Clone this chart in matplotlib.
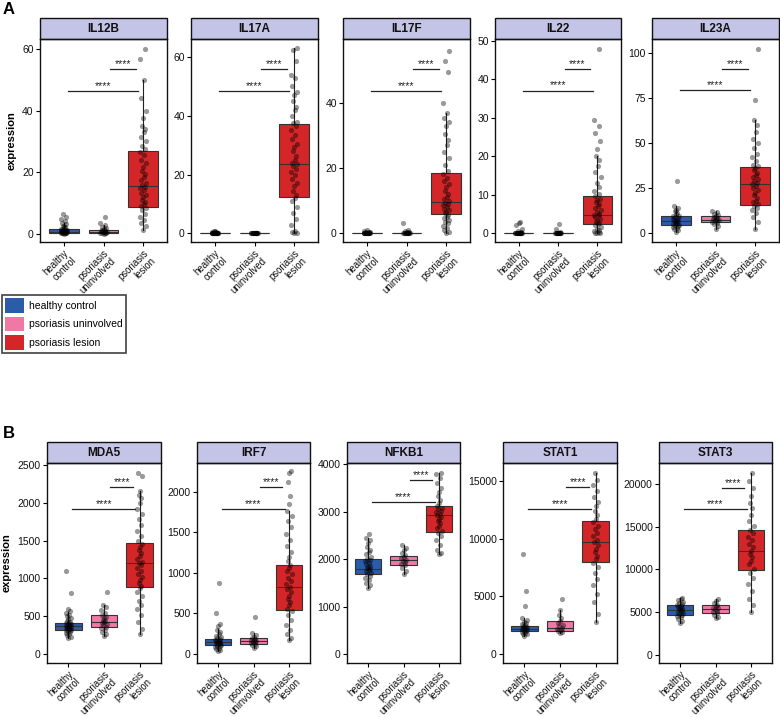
import matplotlib.pyplot as plt
from matplotlib.patches import Rectangle, Patch
from matplotlib.ticker import MultipleLocator

plt.rcParams['font.family'] = ['Liberation Sans', 'DejaVu Sans']

groups = ["healthy control", "psoriasis uninvolved", "psoriasis lesion"]
tick_labels = ["healthy\ncontrol", "psoriasis\nuninvolved", "psoriasis\nlesion"]
colors = ["#2B5CAA", "#F078A5", "#D42628"]

# ---- expression values (healthy control / uninvolved / lesion) ----
IL12B_hc = [0.0, 0.1, 0.1, 0.2, 0.2, 0.3, 0.3, 0.4, 0.4, 0.5, 0.5, 0.5, 0.6, 0.7, 0.8, 0.9, 1.0, 1.1,
            1.2, 1.3, 1.5, 1.7, 2.0, 2.3, 2.6, 3.0, 3.4, 4.0, 4.8, 5.5, 6.2]
IL12B_un = [0.0, 0.1, 0.2, 0.2, 0.3, 0.4, 0.5, 0.6, 0.7, 0.8, 1.0, 1.2, 1.5, 1.8, 2.2, 2.8, 3.5, 5.5]
IL12B_le = [1.0, 2.5, 3.5, 4.5, 5.5, 6.5, 7.5, 8.2, 8.8, 9.5, 10.3, 11.0, 11.8, 12.5, 13.3, 14.0, 14.8,
            15.3, 15.8, 16.5, 17.5, 18.5, 19.5, 20.5, 21.5, 22.8, 24.0, 25.5, 26.5, 27.5, 28.5, 30.0,
            31.5, 33.0, 34.0, 35.0, 37.5, 40.0, 44.0, 50.0, 56.8, 60.0]

IL17A_hc = [0, 0, 0, 0, 0, 0, 0, 0, 0, 0, 0, 0, 0, 0, 0, 0.1, 0.1, 0.2, 0.2, 0.3, 0.4, 0.5, 0.6, 0.8, 1.0]
IL17A_un = [0, 0, 0, 0, 0, 0, 0, 0, 0, 0, 0, 0, 0, 0, 0, 0.1, 0.1, 0.2]
IL17A_le = [0, 0.2, 0.5, 1.0, 3, 5, 7, 9, 11, 12, 13, 14.5, 16, 17, 18.5, 20, 21, 22, 23, 23.5, 24, 25,
            26.5, 28, 29.5, 30.5, 32, 33.5, 35, 36.5, 37.5, 38, 40, 42, 43, 45, 47, 48, 50, 53, 54,
            58.5, 62.5, 63]

IL17F_hc = [0, 0, 0, 0, 0, 0, 0, 0, 0, 0, 0, 0, 0, 0, 0, 0.1, 0.1, 0.2, 0.3, 0.4, 0.6, 0.8]
IL17F_un = [0, 0, 0, 0, 0, 0, 0, 0, 0, 0, 0, 0.1, 0.2, 0.4, 0.7, 1.0, 3.0]
IL17F_le = [0, 0.3, 0.8, 1.5, 2, 3, 3.5, 4, 4.5, 5, 5.5, 6, 6.5, 7, 7.5, 8, 8.5, 9, 9.3, 9.8, 10.5, 11,
            12, 13, 14, 15, 16, 17, 18, 19, 21, 23, 25, 27, 28.5, 30.5, 33, 34, 35.5, 37, 40, 49.5,
            53, 56]

IL22_hc = [0, 0, 0, 0, 0, 0, 0, 0, 0, 0, 0, 0, 0, 0, 0, 0, 0.1, 0.2, 0.5, 1.0, 2.0, 2.6, 3.0]
IL22_un = [0, 0, 0, 0, 0, 0, 0, 0, 0, 0, 0, 0, 0.1, 0.3, 1.0, 2.3]
IL22_le = [0, 0, 0, 0.2, 0.5, 0.8, 1.2, 1.6, 2.0, 2.3, 2.6, 3.0, 3.4, 3.8, 4.2, 4.6, 4.8, 5.0, 5.5,
           6.0, 6.5, 7.0, 7.5, 8.0, 8.5, 9.0, 9.6, 10.2, 11.0, 12.0, 13.0, 14.5, 16.0, 17.5, 19.0,
           20.0, 22.0, 24.0, 26.0, 28.0, 29.5, 48.0]

IL23A_hc = [0.5, 1.5, 2.3, 3.0, 3.5, 4.0, 4.3, 4.7, 5.0, 5.4, 5.8, 6.2, 6.5, 6.8, 7.1, 7.5, 7.9, 8.3,
            8.8, 9.2, 9.7, 10.3, 11.0, 12.0, 13.0, 14.0, 15.0, 29.0]
IL23A_un = [2.5, 4, 5, 5.8, 6.2, 6.7, 7.0, 7.3, 7.6, 8.0, 8.4, 8.8, 9.3, 9.8, 10.5, 11.5, 12.5]
IL23A_le = [2, 6, 9, 11, 13, 14, 15, 16, 17, 18, 19.5, 21, 22.5, 24, 25, 26, 27, 28, 29, 30, 31, 32,
            33.5, 35, 36, 37, 38, 40, 42, 44, 47, 50, 52, 56, 60, 63, 74, 102]

MDA5_hc = [210, 230, 250, 265, 280, 290, 300, 310, 318, 325, 333, 340, 348, 355, 362, 368, 375, 382,
           390, 398, 405, 415, 425, 440, 460, 480, 500, 520, 545, 570, 590, 800, 1100]
MDA5_un = [240, 265, 290, 320, 345, 360, 380, 395, 410, 420, 435, 450, 470, 490, 510, 540, 580, 620,
           650, 820]
MDA5_le = [260, 330, 420, 520, 600, 650, 700, 760, 820, 870, 900, 940, 980, 1020, 1060, 1100, 1140,
           1180, 1200, 1220, 1260, 1300, 1340, 1380, 1420, 1460, 1500, 1560, 1620, 1700, 1780, 1850,
           1920, 2000, 2060, 2100, 2150, 2350, 2400]

IRF7_hc = [40, 55, 65, 75, 85, 95, 105, 112, 120, 128, 135, 142, 148, 155, 162, 170, 178, 188, 198,
           210, 225, 245, 270, 300, 340, 370, 510, 880]
IRF7_un = [80, 100, 115, 125, 135, 145, 155, 162, 170, 180, 190, 200, 215, 235, 260, 455]
IRF7_le = [170, 200, 250, 300, 360, 420, 480, 530, 560, 600, 640, 680, 720, 760, 800, 830, 860, 900,
           940, 980, 1020, 1060, 1100, 1140, 1200, 1260, 1330, 1400, 1480, 1560, 1640, 1700, 1760,
           1850, 1950, 2120, 2230, 2250]

NFKB1_hc = [1400, 1450, 1500, 1550, 1600, 1640, 1680, 1710, 1740, 1770, 1790, 1810, 1830, 1860, 1890,
            1920, 1950, 1980, 2010, 2050, 2100, 2150, 2200, 2260, 2330, 2400, 2450, 2530]
NFKB1_un = [1680, 1750, 1820, 1870, 1900, 1930, 1960, 1990, 2020, 2050, 2080, 2120, 2180, 2230, 2300]
NFKB1_le = [2100, 2130, 2200, 2300, 2400, 2480, 2550, 2600, 2650, 2700, 2750, 2800, 2850, 2890, 2920,
            2950, 2980, 3010, 3050, 3080, 3120, 3180, 3250, 3330, 3400, 3500, 3600, 3700, 3780, 3800]

STAT1_hc = [1600, 1700, 1780, 1850, 1920, 1980, 2030, 2080, 2130, 2180, 2220, 2270, 2320, 2380, 2440,
            2500, 2580, 2680, 2800, 2950, 3100, 4200, 5450, 8700]
STAT1_un = [1800, 1900, 2000, 2100, 2200, 2300, 2400, 2550, 2700, 2900, 3100, 3400, 3800, 4800]
STAT1_le = [2800, 3500, 4500, 5200, 6000, 6500, 7000, 7500, 7900, 8200, 8500, 8800, 9100, 9400, 9700,
            9900, 10200, 10500, 10800, 11100, 11400, 11700, 12000, 12400, 12800, 13200, 13600, 14100,
            14600, 15100, 15700]

STAT3_hc = [3800, 4000, 4200, 4400, 4550, 4700, 4850, 4950, 5050, 5150, 5250, 5350, 5450, 5550, 5650,
            5750, 5850, 5950, 6100, 6250, 6400, 6550, 6700]
STAT3_un = [4300, 4500, 4700, 4900, 5050, 5200, 5350, 5450, 5550, 5700, 5850, 6050, 6300, 6600]
STAT3_le = [5000, 5800, 6600, 7500, 8300, 9000, 9600, 10100, 10600, 11000, 11400, 11800, 12200, 12600,
            13000, 13400, 13800, 14200, 14600, 15100, 15700, 16400, 17200, 17800, 18600, 19500, 20300,
            21200]

# ---- box stats per group: (q1, median, q3, lower whisker, upper whisker) ----
IL12B_box = [(0.2, 0.5, 1.4, 0, 3.4), (0.2, 0.6, 1.3, 0, 2.8), (8.6, 15.5, 26.8, 1.0, 50.0)]
IL17A_box = [(0, 0, 0.05, 0, 0.1), (0, 0, 0.02, 0, 0.05), (12.4, 23.6, 37.3, 0, 63)]
IL17F_box = [(0, 0, 0.05, 0, 0.1), (0, 0, 0.05, 0, 0.1), (5.8, 9.6, 18.4, 0, 37)]
IL22_box = [(0, 0, 0.02, 0, 0.05), (0, 0, 0.02, 0, 0.05), (2.3, 4.8, 9.6, 0, 20)]
IL23A_box = [(4.2, 6.7, 9.2, 0.5, 15), (6.0, 7.5, 9.5, 2.5, 12.5), (15.5, 27, 36.8, 2, 63)]
MDA5_box = [(318, 365, 415, 210, 560), (352, 418, 510, 240, 650), (888, 1200, 1462, 260, 2150)]
IRF7_box = [(110, 148, 188, 40, 310), (120, 160, 195, 80, 260), (548, 823, 1101, 170, 1760)]
NFKB1_box = [(1683, 1800, 2000, 1400, 2450), (1870, 1980, 2070, 1680, 2300), (2573, 2930, 3110, 2100, 3800)]
STAT1_box = [(1960, 2200, 2470, 1600, 3100), (2000, 2300, 2900, 1800, 3800), (8000, 9740, 11530, 2800, 15700)]
STAT3_box = [(4700, 5300, 5850, 3800, 6700), (4900, 5400, 5800, 4300, 6600), (9920, 12180, 14630, 5000, 21200)]

# ---- significance bar heights: (control vs lesion, uninvolved vs lesion) ----
IL12B_sig = (46.4, 53.5)
IL17A_sig = (48.4, 55.8)
IL17F_sig = (43.8, 50.5)
IL22_sig = (37.1, 42.8)
IL23A_sig = (79.4, 91.0)
MDA5_sig = (1919, 2210)
IRF7_sig = (1780, 2050)
NFKB1_sig = (3203, 3665)
STAT1_sig = (12520, 14420)
STAT3_sig = (17010, 19500)

W, H = 780, 717
fig = plt.figure(figsize=(W / 100, H / 100), dpi=100)

# name, points, box, sig, ylim, tick step, (x0, x1, ytop, ybottom) in px
panels = [
    ("IL12B", [IL12B_hc, IL12B_un, IL12B_le], IL12B_box, IL12B_sig, (-2.76, 63.3), 20, (40, 167, 39, 242)),
    ("IL17A", [IL17A_hc, IL17A_un, IL17A_le], IL17A_box, IL17A_sig, (-2.9, 66.1), 20, (191, 318, 39, 242)),
    ("IL17F", [IL17F_hc, IL17F_un, IL17F_le], IL17F_box, IL17F_sig, (-2.8, 59.7), 20, (343, 470, 39, 242)),
    ("IL22", [IL22_hc, IL22_un, IL22_le], IL22_box, IL22_sig, (-2.3, 50.5), 10, (495, 621, 39, 242)),
    ("IL23A", [IL23A_hc, IL23A_un, IL23A_le], IL23A_box, IL23A_sig, (-5.0, 107.8), 25, (652, 779, 39, 242)),
    ("MDA5", [MDA5_hc, MDA5_un, MDA5_le], MDA5_box, MDA5_sig, (-120, 2526), 500, (47, 161, 463, 663)),
    ("IRF7", [IRF7_hc, IRF7_un, IRF7_le], IRF7_box, IRF7_sig, (-109, 2351), 500, (197, 310, 463, 663)),
    ("NFKB1", [NFKB1_hc, NFKB1_un, NFKB1_le], NFKB1_box, NFKB1_sig, (-186, 4020), 1000, (347, 460, 463, 663)),
    ("STAT1", [STAT1_hc, STAT1_un, STAT1_le], STAT1_box, STAT1_sig, (-770, 16535), 5000, (503, 617, 463, 663)),
    ("STAT3", [STAT3_hc, STAT3_un, STAT3_le], STAT3_box, STAT3_sig, (-920, 22414), 5000, (659, 772, 463, 663)),
]

jit = [0.0, 0.06, -0.05, 0.03, -0.08, 0.05, -0.02, 0.08, -0.06, 0.01, 0.04, -0.03]
strip_h = 21

for k, (name, pts, box, sig, ylim, step, (x0, x1, yt, yb)) in enumerate(panels):
    ax = fig.add_axes([x0 / W, 1 - yb / H, (x1 - x0) / W, (yb - yt) / H])
    stats = [dict(q1=b[0], med=b[1], q3=b[2], whislo=b[3], whishi=b[4], fliers=[]) for b in box]
    bp = ax.bxp(stats, positions=[1, 2, 3], widths=0.75, patch_artist=True, showfliers=False,
                showcaps=False,
                medianprops=dict(color="#333333", lw=0.8),
                whiskerprops=dict(color="#222222", lw=0.8),
                boxprops=dict(edgecolor="#333333", lw=0.8))
    for patch, c in zip(bp["boxes"], colors):
        patch.set_facecolor(c)
    for i, vals in enumerate(pts):
        xs = [i + 1 + jit[j % len(jit)] for j in range(len(vals))]
        ax.scatter(xs, vals, s=14, color="black", alpha=0.4, lw=0, zorder=3)
    # significance bars
    for (xa, xb), yv in zip([(1.1, 2.88), (2.17, 2.82)], sig):
        ax.plot([xa, xb], [yv, yv], color="#222222", lw=0.9, zorder=4)
        ax.text((xa + xb) / 2, yv, "****", ha="center", va="bottom", fontsize=7.5, color="#222222")
    ax.set_xlim(0.4, 3.6)
    ax.set_ylim(*ylim)
    ax.yaxis.set_major_locator(MultipleLocator(step))
    ax.set_xticks([1, 2, 3])
    ax.set_xticklabels(tick_labels, rotation=45, ha="right", va="top", rotation_mode="anchor",
                       multialignment="right", fontsize=6.9, color="#111111", linespacing=1.0)
    ax.tick_params(axis="y", labelsize=7.5, labelcolor="#111111", length=3, width=0.8, pad=1.5)
    ax.tick_params(axis="x", length=3, width=0.8, pad=1.5)
    for sp in ax.spines.values():
        sp.set_color("#111111")
        sp.set_linewidth(1.0)
    # facet strip
    h = strip_h / (yb - yt)
    ax.add_patch(Rectangle((0, 1), 1, h, transform=ax.transAxes, clip_on=False,
                           facecolor="#C4C4E6", edgecolor="#111111", lw=1.0))
    ax.text(0.5, 1 + h / 2, name, transform=ax.transAxes, ha="center", va="center",
            fontsize=8.5, fontweight="bold", color="#111111")
    if k in (0, 5):
        ax.set_ylabel("expression", fontsize=8, fontweight="bold", labelpad=4)

fig.text(3 / W, 1 - 10 / H, "A", fontsize=12, fontweight="bold", va="center", ha="left")
fig.text(3 / W, 1 - 433 / H, "B", fontsize=12, fontweight="bold", va="center", ha="left")

handles = [Patch(facecolor=c, edgecolor="none") for c in colors]
leg = fig.legend(handles, groups, loc="upper left", bbox_to_anchor=(2 / W, 1 - 295 / H),
                 fontsize=7.5, frameon=True, fancybox=False, edgecolor="#111111",
                 handlelength=1.8, handleheight=1.8, handletextpad=0.5, labelspacing=0.35,
                 borderpad=0.3, borderaxespad=0)
leg.get_frame().set_linewidth(1.2)

fig.savefig("out.png", dpi=100)
